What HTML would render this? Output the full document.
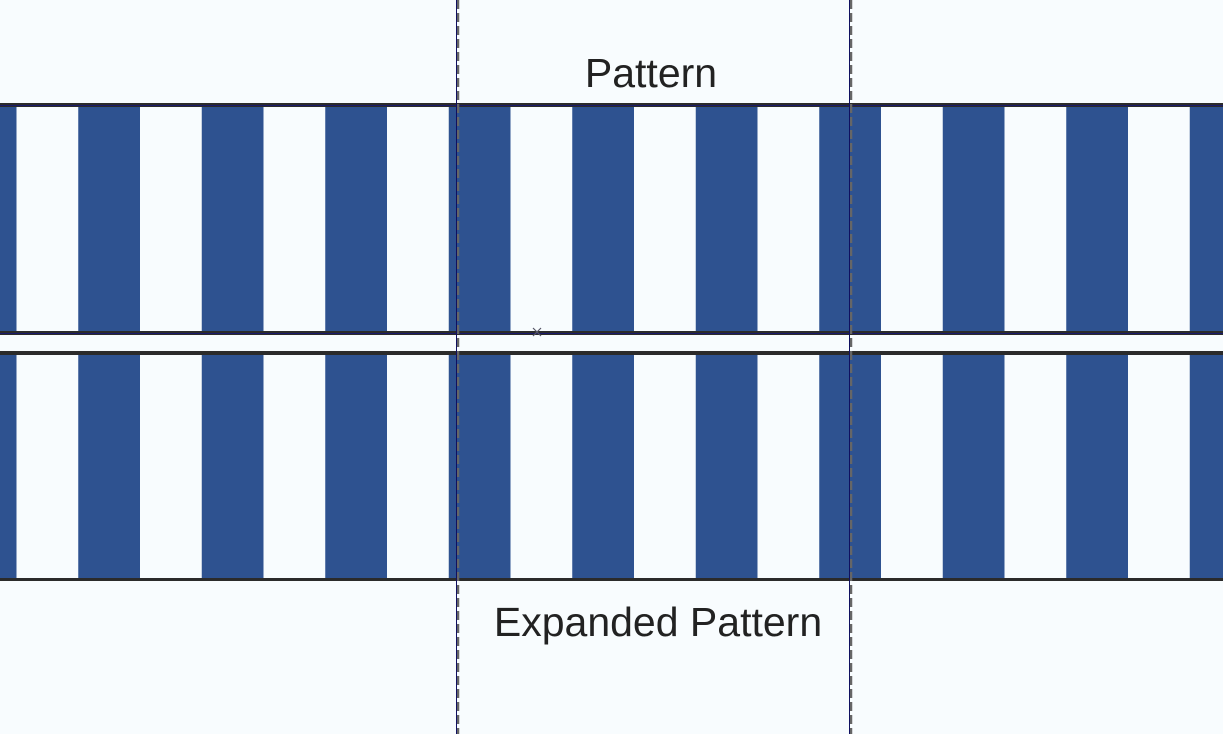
<!DOCTYPE html>
<html><head><style>
html,body{margin:0;padding:0;background:#f8fcfe;}
</style></head><body>
<svg width="1223" height="734" xmlns="http://www.w3.org/2000/svg" style="display:block">
<defs>
<pattern id="p" x="16.5" y="0" width="123.5" height="734" patternUnits="userSpaceOnUse">
<rect x="61.75" y="0" width="61.75" height="734" fill="#2e5290"/>
</pattern>
</defs>
<rect width="1223" height="734" fill="#f8fcfe"/>
<rect x="0" y="106" width="1223" height="226" fill="url(#p)"/>
<rect x="0" y="353" width="1223" height="226" fill="url(#p)"/>
<rect x="0" y="103" width="1223" height="4" fill="#2b2b2b"/>
<rect x="0" y="105" width="1223" height="1" fill="#1a1a6a"/>
<rect x="0" y="331" width="1223" height="4" fill="#2b2b2b"/>
<rect x="0" y="333" width="1223" height="1" fill="#1a1a6a"/>
<rect x="0" y="351" width="1223" height="4" fill="#2b2b2b"/>
<rect x="0" y="578" width="1223" height="3" fill="#2b2b2b"/>
<line x1="458" y1="0" x2="458" y2="734" stroke="#666" stroke-width="2.5" stroke-dasharray="9,4"/>
<line x1="851" y1="0" x2="851" y2="734" stroke="#666" stroke-width="2.5" stroke-dasharray="9,4"/>
<line x1="456.5" y1="0" x2="456.5" y2="734" stroke="#101060" stroke-width="1"/>
<line x1="849.5" y1="0" x2="849.5" y2="734" stroke="#101060" stroke-width="1"/>
<path d="M533 328l8 8M541 328l-8 8" stroke="#556" stroke-width="1.2"/>
<text x="651" y="87" font-family="Liberation Sans, sans-serif" font-size="41" fill="#222" text-anchor="middle">Pattern</text>
<text x="658" y="636" font-family="Liberation Sans, sans-serif" font-size="41" fill="#222" text-anchor="middle">Expanded Pattern</text>
</svg>
</body></html>
